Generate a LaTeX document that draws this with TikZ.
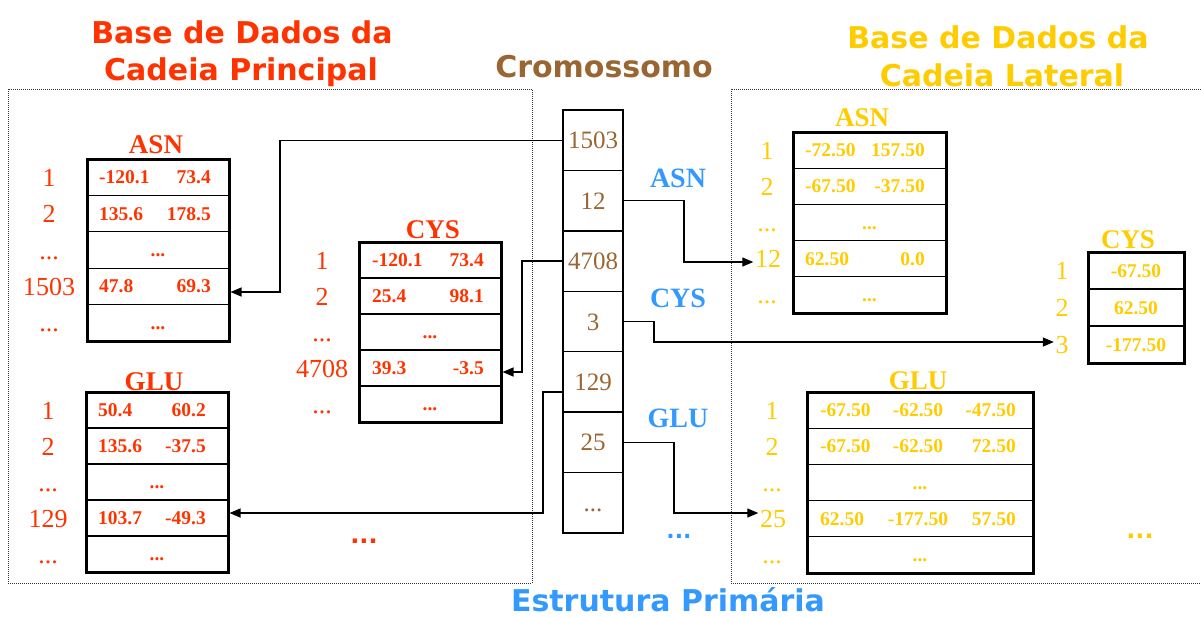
\documentclass[tikz,border=0pt]{standalone}
\usepackage{fontspec}
\setmainfont{Liberation Serif}
\newfontfamily\vsans{DejaVu Sans}
\usetikzlibrary{arrows.meta,calc}
\definecolor{pred}{HTML}{FF3300}
\definecolor{pyel}{HTML}{FFCC00}
\definecolor{pblue}{HTML}{3399FF}
\definecolor{pbrown}{HTML}{996633}
\tikzset{
  tabrow/.style={draw, line width=1.2pt, inner sep=0pt, outer sep=0pt},
  chromo/.style={draw, line width=1.3pt, inner sep=0pt, outer sep=0pt, minimum width=60pt, minimum height=60.43pt,
    text=pbrown, text height=17pt, text depth=0pt, font=\fontsize{25}{28}\selectfont},
  cellt/.style={inner sep=0pt, font=\fontsize{19.5}{22}\selectfont\bfseries},
  labt/.style={inner sep=0pt, font=\fontsize{26}{30}\selectfont},
  tabtitle/.style={inner sep=0pt, anchor=base, font=\fontsize{27}{30}\selectfont\bfseries},
  bluelab/.style={inner sep=0pt, anchor=base, text=pblue, font=\fontsize{28}{30}\selectfont\bfseries},
  bigtitle/.style={inner sep=0pt, anchor=base, font=\vsans\bfseries\fontsize{30}{36}\selectfont},
  bigdots/.style={inner sep=0pt, anchor=base, font=\vsans\bfseries\fontsize{24}{28}\selectfont},
  conn/.style={line width=1.3pt, shorten >=1.5pt, -{Triangle[length=11pt,width=9pt]}},
  dotbox/.style={line width=1pt, dash pattern=on 1pt off 1pt, draw=black!80},
}
% #1 name, #2 cx, #3 top, #4 width, #5 row height, #6 rows
\newcommand\mktable[6]{%
  \foreach \i in {1,...,#6}{%
    \node[tabrow, minimum width=#4pt, minimum height=#5pt] (#1-\i) at (#2, {#3+(\i-0.5)*#5}) {};
  }%
  \draw[line width=3pt] (#1-1.north west) rectangle (#1-#6.south east);
}
% #1 row, #2 colour, #3 left, #4 right, #5 left inset, #6 right inset
\newcommand\tworow[6]{%
  \node[cellt, text=#2, anchor=base west] (#1a) at ([xshift=#5pt,yshift=-6.5pt]#1.west) {#3};
  \node[cellt, text=#2, anchor=base east] (#1b) at ([xshift=-#6pt,yshift=-6.5pt]#1.east) {#4};
}
\newcommand\threerow[5]{%
  \node[cellt, text=#2, anchor=base west] (#1a) at ([xshift=13pt,yshift=-6.5pt]#1.west) {#3};
  \node[cellt, text=#2, anchor=base] (#1b) at ([xshift=-2pt,yshift=-6.5pt]#1.center) {#4};
  \node[cellt, text=#2, anchor=base east] (#1c) at ([xshift=-17pt,yshift=-6.5pt]#1.east) {#5};
}
\newcommand\onerow[3]{%
  \node[cellt, text=#2, anchor=base] (#1a) at ([yshift=-6.5pt]#1.center) {#3};
}
% #1 row, #2 colour, #3 x, #4 text
\newcommand\rlab[4]{%
  \node[labt, text=#2, anchor=base, yshift=-9pt] (#1l) at (#3,0 |- #1.center) {#4};
}
\begin{document}
\begin{tikzpicture}[x=1pt,y=-1pt]
\useasboundingbox (0,0) rectangle (1201,616);

% titles
\node[bigtitle, text=pred] (tp1) at (242,43) {Base de Dados da};
\node[bigtitle, text=pred] (tp2) at (241,80) {Cadeia Principal};
\node[bigtitle, text=pbrown] (tcr) at (604,77) {Cromossomo};
\node[bigtitle, text=pyel] (tl1) at (998,48) {Base de Dados da};
\node[bigtitle, text=pyel] (tl2) at (1002,86) {Cadeia Lateral};
\node[bigtitle, text=pblue] (tes) at (668,611) {Estrutura Primária};

% dotted frames
\draw[dotbox] (8,89) rectangle (532,583);
\draw[dotbox] (1201,89) -- (731,89) -- (731,583) -- (1201,583);

% ---- main chain: ASN
\mktable{pasn}{158}{159}{142}{36.4}{5}
\node[tabtitle, text=pred] (pasnT) at (156,153) {ASN};
\tworow{pasn-1}{pred}{-120.1}{73.4}{12}{18}
\tworow{pasn-2}{pred}{135.6}{178.5}{12}{18}
\onerow{pasn-3}{pred}{...}
\tworow{pasn-4}{pred}{47.8}{69.3}{12}{18}
\onerow{pasn-5}{pred}{...}
\rlab{pasn-1}{pred}{49}{1}
\rlab{pasn-2}{pred}{49}{2}
\rlab{pasn-3}{pred}{49}{...}
\rlab{pasn-4}{pred}{49}{1503}
\rlab{pasn-5}{pred}{49}{...}

% ---- main chain: CYS
\mktable{pcys}{430}{242}{142}{36}{5}
\node[tabtitle, text=pred] (pcysT) at (433,238) {CYS};
\tworow{pcys-1}{pred}{-120.1}{73.4}{13}{17}
\tworow{pcys-2}{pred}{25.4}{98.1}{13}{17}
\onerow{pcys-3}{pred}{...}
\tworow{pcys-4}{pred}{39.3}{-3.5}{13}{17}
\onerow{pcys-5}{pred}{...}
\rlab{pcys-1}{pred}{322}{1}
\rlab{pcys-2}{pred}{322}{2}
\rlab{pcys-3}{pred}{322}{...}
\rlab{pcys-4}{pred}{322}{4708}
\rlab{pcys-5}{pred}{322}{...}

% ---- main chain: GLU
\mktable{pglu}{157}{392}{142}{36}{5}
\node[tabtitle, text=pred] (pgluT) at (154,390) {GLU};
\tworow{pglu-1}{pred}{50.4}{60.2}{12}{22}
\tworow{pglu-2}{pred}{135.6}{-37.5}{12}{22}
\onerow{pglu-3}{pred}{...}
\tworow{pglu-4}{pred}{103.7}{-49.3}{12}{22}
\onerow{pglu-5}{pred}{...}
\rlab{pglu-1}{pred}{48}{1}
\rlab{pglu-2}{pred}{48}{2}
\rlab{pglu-3}{pred}{48}{...}
\rlab{pglu-4}{pred}{48}{129}
\rlab{pglu-5}{pred}{48}{...}

\node[bigdots, text=pred] (pdots) at (364,543) {...};

% ---- side chain: ASN
\mktable{lasn}{869.5}{132}{153}{36.2}{5}
\node[tabtitle, text=pyel] (lasnT) at (862,126) {ASN};
\tworow{lasn-1}{pyel}{-72.50}{157.50}{12}{21}
\tworow{lasn-2}{pyel}{-67.50}{-37.50}{12}{21}
\onerow{lasn-3}{pyel}{...}
\tworow{lasn-4}{pyel}{62.50}{0.0}{12}{21}
\onerow{lasn-5}{pyel}{...}
\rlab{lasn-1}{pyel}{767}{1}
\rlab{lasn-2}{pyel}{767}{2}
\rlab{lasn-3}{pyel}{767}{...}
\rlab{lasn-4}{pyel}{768}{12}
\rlab{lasn-5}{pyel}{767}{...}

% ---- side chain: CYS
\mktable{lcys}{1136}{252}{96}{37}{3}
\node[tabtitle, text=pyel] (lcysT) at (1128,248) {CYS};
\onerow{lcys-1}{pyel}{-67.50}
\onerow{lcys-2}{pyel}{62.50}
\onerow{lcys-3}{pyel}{-177.50}
\rlab{lcys-1}{pyel}{1062}{1}
\rlab{lcys-2}{pyel}{1062}{2}
\rlab{lcys-3}{pyel}{1062}{3}

% ---- side chain: GLU
\mktable{lglu}{920}{392}{226}{36.2}{5}
\node[tabtitle, text=pyel] (lgluT) at (918,389) {GLU};
\threerow{lglu-1}{pyel}{-67.50}{-62.50}{-47.50}
\threerow{lglu-2}{pyel}{-67.50}{-62.50}{72.50}
\onerow{lglu-3}{pyel}{...}
\threerow{lglu-4}{pyel}{62.50}{-177.50}{57.50}
\onerow{lglu-5}{pyel}{...}
\rlab{lglu-1}{pyel}{772}{1}
\rlab{lglu-2}{pyel}{772}{2}
\rlab{lglu-3}{pyel}{772}{...}
\rlab{lglu-4}{pyel}{773}{25}
\rlab{lglu-5}{pyel}{772}{...}

\node[bigdots, text=pyel] (ldots) at (1140,538) {...};

% ---- chromosome
\node[chromo] (c1) at (593,140.2) {1503};
\node[chromo] (c2) at (593,200.6) {12};
\node[chromo] (c3) at (593,261.1) {4708};
\node[chromo] (c4) at (593,321.5) {3};
\node[chromo] (c5) at (593,381.9) {129};
\node[chromo] (c6) at (593,442.4) {25};
\node[chromo] (c7) at (593,502.8) {...};

\node[bluelab] (bASN) at (678,187) {ASN};
\node[bluelab] (bCYS) at (678,307) {CYS};
\node[bluelab] (bGLU) at (678,427) {GLU};
\node[bigdots, text=pblue, font=\vsans\bfseries\fontsize{22}{26}\selectfont] (bdots) at (679,538) {...};

% ---- connectors
\coordinate (k1) at (280,292);
\draw[conn] (c1.west) -| (k1) -- (k1 -| pasn-4.east);
\coordinate (k2) at (684,262);
\draw[conn] (c2.east) -| (k2) -- (k2 -| lasn-4l.west);
\coordinate (k3) at (522,372);
\draw[conn] (c3.west) -| (k3) -- (k3 -| pcys-4.east);
\coordinate (k4) at (654,342);
\draw[conn] (c4.east) -| (k4) -- (k4 -| lcys-3l.west);
\coordinate (k5) at (543,513);
\draw[conn] ([yshift=-10pt]c5.west) -| (k5) -- (k5 -| pglu-4.east);
\coordinate (k6) at (674,513);
\draw[conn] (c6.east) -| (k6) -- (k6 -| lglu-4l.west);
\end{tikzpicture}
\end{document}
